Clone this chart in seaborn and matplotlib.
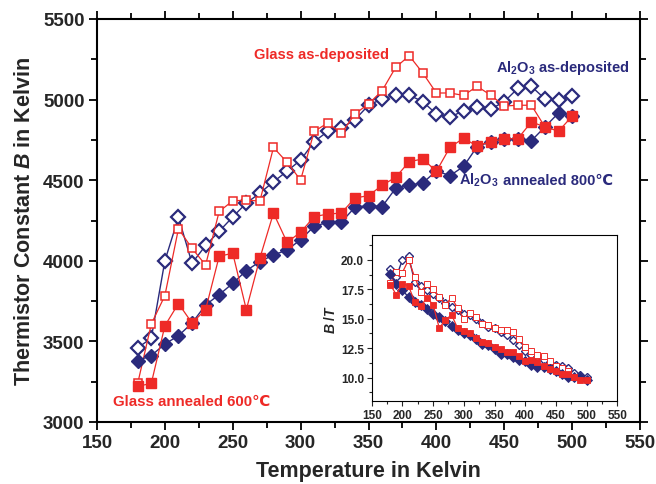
import numpy as np
import pandas as pd
import matplotlib
matplotlib.use("Agg")
import matplotlib.pyplot as plt
import seaborn as sns

# ---------------- data ----------------
temperature = [180, 190, 200, 210, 220, 230, 240, 250, 260, 270, 280, 290, 300,
               310, 320, 330, 340, 350, 360, 370, 380, 390, 400, 410, 420, 430,
               440, 450, 460, 470, 480, 490, 500]

al2o3_as_dep = [3460, 3520, 4000, 4270, 3985, 4095, 4183, 4272, 4358, 4420, 4490,
                4556, 4625, 4739, 4803, 4824, 4875, 4965, 5004, 5028, 5028, 4987,
                4911, 4890, 4932, 4952, 4941, 4987, 5070, 5082, 5004, 4997, 5024]

glass_as_dep = [3240, 3608, 3784, 4199, 4077, 3974, 4306, 4372, 4376, 4371, 4703,
                4611, 4501, 4803, 4855, 4791, 4911, 4973, 5055, 5200, 5272, 5165,
                5041, 5041, 5026, 5082, 5028, 4960, 4965, 4965, 4830, np.nan, np.nan]

glass_annealed = [3221, 3240, 3597, 3735, 3614, 3697, 4028, 4047, 3697, 4017, 4296,
                  4115, 4177, 4274, 4290, 4296, 4390, 4404, 4468, 4518, 4615, 4632,
                  4555, 4704, 4760, 4712, 4740, 4756, 4758, 4861, 4831, 4804, 4897]

al2o3_annealed = [3381, 3412, 3484, 3535, 3614, 3726, 3790, 3860, 3939, 3995, 4036,
                  4067, 4131, 4214, 4239, 4240, 4332, 4342, 4336, 4450, 4470, 4483,
                  4558, 4528, 4585, 4708, 4740, 4755, 4755, 4745, 4831, 4917, 4897]

label_glass_dep = "Glass as-deposited"
label_al_dep = r"Al$_\mathbf{2}$O$_\mathbf{3}$ as-deposited"
label_al_ann_a = r"Al$_\mathbf{2}$O$_\mathbf{3}$"
label_al_ann_b = " annealed 800℃"
label_glass_ann = "Glass annealed 600℃"

RED = "#EE2A27"
NAVY = "#2A2A7C"

# ---------------- style ----------------
sns.set_theme(style="ticks")
plt.rcParams["font.family"] = ["Liberation Sans", "DejaVu Sans"]
plt.rcParams["font.weight"] = "bold"
plt.rcParams["mathtext.fontset"] = "custom"
plt.rcParams["mathtext.rm"] = "Liberation Sans:bold"
plt.rcParams["mathtext.bf"] = "Liberation Sans:bold"
plt.rcParams["mathtext.it"] = "Liberation Sans:italic:bold"
plt.rcParams["axes.linewidth"] = 1.5

df = pd.DataFrame({"T": temperature,
                   "al_dep": al2o3_as_dep,
                   "gl_dep": glass_as_dep,
                   "gl_ann": glass_annealed,
                   "al_ann": al2o3_annealed})

fig = plt.figure(figsize=(6.56, 4.85), dpi=100)
ax = fig.add_axes([97/656, 1-423/485, (640-97)/656, (423-20)/485])

series = [
    ("al_dep", NAVY, "D", "white", 7.0, 1.6),
    ("gl_dep", RED, "s", "white", 6.0, 1.1),
    ("al_ann", NAVY, "D", NAVY, 7.5, 1.0),
    ("gl_ann", RED, "s", RED, 6.5, 1.0),
]

def draw(axis, scale=False, msf=1.0):
    for col, color, mk, mfc, ms, mew in series:
        y = df[col] / df["T"] if scale else df[col]
        sub = pd.DataFrame({"T": df["T"], "y": y}).dropna()
        sns.lineplot(data=sub, x="T", y="y", ax=axis, sort=False, estimator=None,
                     color=color, lw=0.9 if color == RED else 1.0,
                     marker=mk, markersize=ms * msf, markerfacecolor=mfc,
                     markeredgecolor=color, markeredgewidth=mew * msf,
                     legend=False)

draw(ax)

ax.set_xlim(150, 550)
ax.set_ylim(3000, 5500)
ax.set_xticks(np.arange(150, 551, 50))
ax.set_xticks(np.arange(175, 550, 50), minor=True)
ax.set_yticks(np.arange(3000, 5501, 500))
ax.set_yticks(np.arange(3250, 5500, 500), minor=True)
ax.tick_params(which="both", direction="out", top=True, right=True,
               labeltop=False, labelright=False, width=1.3, color="black")
ax.tick_params(which="major", length=6, labelsize=13.5, pad=3)
ax.tick_params(which="minor", length=4)
for lab in ax.get_xticklabels() + ax.get_yticklabels():
    lab.set_fontweight("bold")
for s in ax.spines.values():
    s.set_visible(True)
    s.set_color("black")

ax.set_xlabel("Temperature in Kelvin", fontsize=15.5, fontweight="bold", labelpad=6)
ax.set_ylabel(r"Thermistor Constant $B$ in Kelvin", fontsize=15.5,
              fontweight="bold", labelpad=6)

# annotations
ax.text(266, 5283, label_glass_dep, color=RED, fontsize=10.5, fontweight="bold", va="center")
ax.text(444, 5205, label_al_dep, color=NAVY, fontsize=10.5, fontweight="bold", va="center")
t_a = ax.text(417, 4476, label_al_ann_a, color=NAVY, fontsize=10.5,
              fontweight="bold", va="baseline")
ax.annotate(label_al_ann_b, xy=(1.0, 0.0), xycoords=t_a, color=NAVY,
            fontsize=10.5, fontweight="bold", va="bottom", ha="left",
            xytext=(0, 1.2), textcoords="offset points")
ax.text(162, 3130, label_glass_ann, color=RED, fontsize=10.8, fontweight="bold", va="center")

# ---------------- inset ----------------
axi = fig.add_axes([371.7/656, 1-402.3/485, 245.6/656, 166.3/485])
draw(axi, scale=True, msf=0.62)
axi.set_xlim(150, 550)
axi.set_ylim(8.0, 22.1)
axi.set_xticks(np.arange(150, 551, 50))
axi.set_xticks(np.arange(175, 550, 50), minor=True)
axi.set_yticks([10.0, 12.5, 15.0, 17.5, 20.0])
axi.set_yticks([8.75, 11.25, 13.75, 16.25, 18.75, 21.25], minor=True)
axi.set_yticklabels(["10.0", "12.5", "15.0", "17.5", "20.0"])
axi.tick_params(which="both", direction="out", width=0.8, labelsize=8.5, pad=2)
axi.tick_params(which="major", length=3.5)
axi.tick_params(which="minor", length=2)
for lab in axi.get_xticklabels() + axi.get_yticklabels():
    lab.set_fontweight("bold")
for s in axi.spines.values():
    s.set_visible(True)
    s.set_linewidth(0.8)
    s.set_color("black")
axi.set_xlabel("")
axi.set_ylabel(r"$B$ /$T$", fontsize=10, fontweight="bold", labelpad=2)

fig.savefig("out.png", dpi=100)
